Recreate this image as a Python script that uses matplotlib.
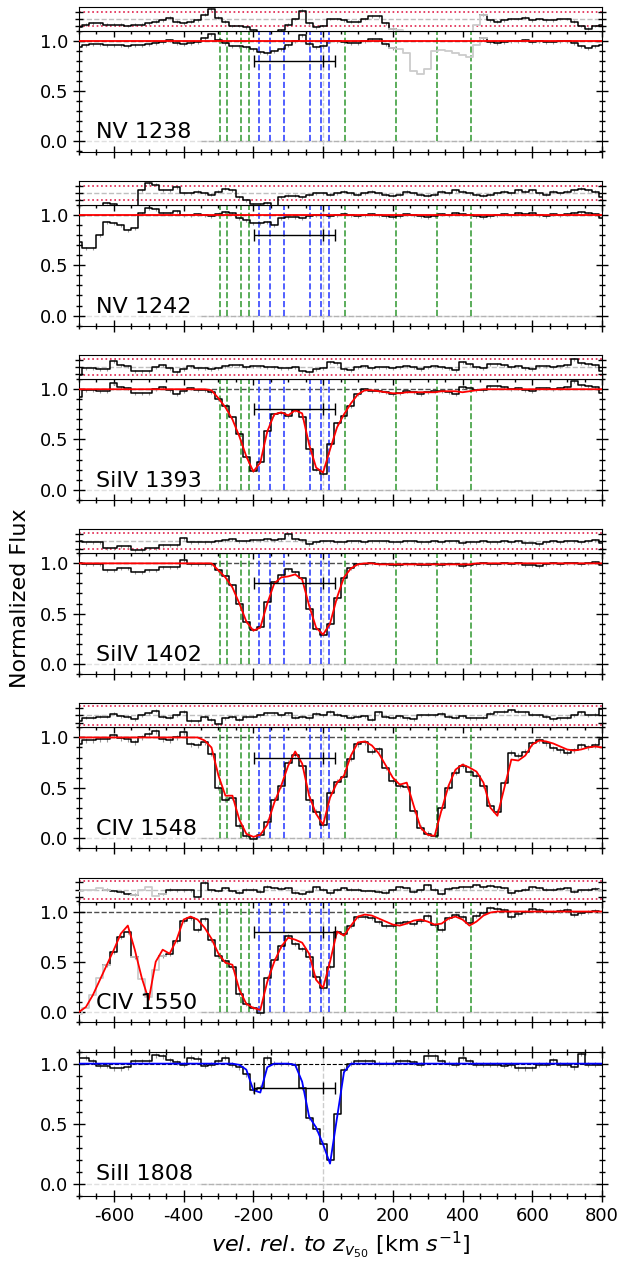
import numpy as np
import matplotlib.pyplot as plt
from matplotlib.ticker import MultipleLocator

plt.rcParams['axes.unicode_minus'] = False

vel = np.arange(-700, 801, 20)

nv1238_flux = [0.94, 0.96, 0.97, 0.97, 0.96, 0.96, 0.96, 0.95, 0.96, 0.96,
               0.97, 0.98, 0.99, 1.01, 0.98, 0.97, 0.98, 0.99, 1.03, 1.07,
               1.01, 0.98, 0.95, 0.95, 0.94, 0.92, 0.89, 0.88, 0.90, 0.92,
               0.96, 1.00, 1.06, 0.97, 0.94, 0.95, 1.00, 1.00, 0.99, 0.98,
               0.98, 1.00, 1.02, 1.02, 0.97, 0.93, 0.92, 0.88, 0.70, 0.67,
               0.72, 0.90, 0.91, 0.90, 0.88, 0.86, 0.84, 0.96, 1.03, 0.99,
               0.98, 0.99, 1.00, 1.00, 1.01, 0.99, 1.00, 0.99, 0.99, 1.00,
               1.00, 0.98, 0.95, 0.93, 0.95, 0.96]
nv1242_flux = [0.73, 0.67, 0.67, 0.80, 0.93, 0.92, 0.90, 0.85, 0.87, 1.02,
               1.07, 1.06, 1.02, 1.02, 1.04, 1.00, 1.00, 1.01, 1.00, 0.99,
               1.01, 1.03, 1.02, 0.97, 0.95, 0.92, 0.92, 0.93, 0.90, 0.97,
               0.98, 0.98, 0.97, 0.99, 1.00, 1.00, 0.99, 1.00, 1.01, 1.00,
               0.99, 1.00, 1.01, 1.00, 0.99, 0.98, 0.99, 1.01, 1.00, 0.99,
               0.98, 0.99, 1.01, 1.00, 1.02, 1.01, 1.00, 0.99, 0.98, 0.99,
               1.00, 1.01, 1.00, 1.02, 1.01, 1.02, 1.00, 0.99, 1.01, 1.00,
               1.01, 1.02, 1.03, 1.02, 1.01, 0.97]
siiv1393_flux = [0.92, 0.99, 0.99, 0.98, 0.98, 1.06, 1.02, 1.01, 0.96, 0.96,
                 0.96, 1.00, 1.02, 0.99, 0.95, 0.98, 1.01, 0.99, 0.99, 0.97,
                 0.90, 0.83, 0.72, 0.55, 0.33, 0.19, 0.28, 0.58, 0.75, 0.76,
                 0.73, 0.79, 0.72, 0.40, 0.20, 0.16, 0.45, 0.66, 0.73, 0.83,
                 0.95, 1.00, 0.98, 0.98, 0.97, 0.95, 0.96, 0.98, 0.97, 0.95,
                 0.97, 0.98, 0.98, 0.97, 0.95, 1.02, 1.01, 0.99, 0.99, 1.03,
                 1.03, 1.02, 1.00, 1.01, 0.99, 0.98, 1.01, 1.01, 1.00, 1.01,
                 1.02, 1.08, 1.04, 1.03, 1.02, 0.96]
siiv1393_model = [1.00, 1.00, 1.00, 1.00, 1.00, 1.00, 1.00, 1.00, 1.00, 1.00,
                  1.00, 1.00, 1.00, 1.00, 1.00, 1.00, 1.00, 1.00, 1.00, 0.99,
                  0.91, 0.82, 0.70, 0.53, 0.33, 0.18, 0.27, 0.58, 0.75, 0.77,
                  0.74, 0.79, 0.76, 0.45, 0.22, 0.17, 0.40, 0.62, 0.75, 0.86,
                  0.95, 0.99, 0.99, 0.98, 0.97, 0.96, 0.96, 0.97, 0.97, 0.97,
                  0.97, 0.97, 0.98, 0.98, 0.98, 0.97, 0.98, 0.99, 1.00, 1.00,
                  1.00, 1.00, 1.00, 1.00, 1.00, 1.00, 1.00, 1.00, 1.00, 1.00,
                  1.00, 1.00, 1.00, 1.00, 1.00, 1.00]
siiv1402_flux = [1.00, 0.99, 0.99, 0.99, 0.93, 0.93, 0.95, 0.95, 0.91, 0.91,
                 0.93, 0.93, 0.96, 0.96, 0.96, 1.03, 0.99, 0.99, 0.99, 0.99,
                 0.93, 0.87, 0.78, 0.60, 0.42, 0.34, 0.37, 0.62, 0.81, 0.88,
                 0.94, 0.91, 0.85, 0.55, 0.35, 0.29, 0.40, 0.65, 0.85, 0.95,
                 0.99, 0.99, 1.00, 0.99, 0.99, 0.98, 0.98, 0.99, 0.99, 0.98,
                 0.98, 0.99, 0.98, 0.99, 0.99, 0.97, 0.98, 0.99, 1.00, 0.99,
                 0.99, 1.00, 0.99, 1.00, 0.98, 0.98, 0.97, 0.99, 1.00, 0.99,
                 1.00, 1.00, 0.99, 1.00, 1.01, 0.98]
siiv1402_model = [1.00, 1.00, 1.00, 1.00, 1.00, 1.00, 1.00, 1.00, 1.00, 1.00,
                  1.00, 1.00, 1.00, 1.00, 1.00, 1.00, 1.00, 1.00, 1.00, 1.00,
                  0.93, 0.86, 0.76, 0.60, 0.42, 0.33, 0.36, 0.60, 0.80, 0.86,
                  0.87, 0.89, 0.84, 0.58, 0.36, 0.29, 0.40, 0.66, 0.86, 0.95,
                  0.99, 1.00, 1.00, 0.99, 0.99, 0.99, 0.99, 0.99, 0.99, 0.99,
                  0.99, 0.99, 0.99, 0.99, 0.99, 0.99, 0.99, 1.00, 1.00, 1.00,
                  1.00, 1.00, 1.00, 1.00, 1.00, 1.00, 1.00, 1.00, 1.00, 1.00,
                  1.00, 1.00, 1.00, 1.00, 1.00, 1.00]
civ1548_flux = [0.93, 0.97, 0.97, 0.98, 0.98, 1.02, 0.99, 0.98, 0.95, 1.00,
                1.03, 1.06, 0.98, 0.97, 1.00, 1.05, 0.93, 0.92, 0.95, 0.84,
                0.50, 0.38, 0.40, 0.12, 0.02, -0.01, 0.03, 0.16, 0.38, 0.52,
                0.75, 0.83, 0.72, 0.38, 0.26, 0.13, 0.45, 0.56, 0.61, 0.79,
                0.93, 0.95, 0.86, 0.88, 0.70, 0.57, 0.52, 0.51, 0.27, 0.10,
                0.04, 0.02, 0.30, 0.50, 0.65, 0.72, 0.66, 0.62, 0.52, 0.32,
                0.26, 0.55, 0.85, 0.82, 0.86, 0.94, 0.97, 0.94, 0.89, 0.87,
                0.85, 0.87, 0.92, 0.90, 0.92, 0.98]
civ1548_model = [1.00, 1.00, 1.00, 1.00, 1.00, 1.00, 1.00, 1.00, 1.00, 1.00,
                 1.00, 1.00, 1.00, 1.00, 1.00, 1.00, 1.00, 1.00, 0.97, 0.90,
                 0.62, 0.42, 0.42, 0.18, 0.04, 0.01, 0.03, 0.13, 0.35, 0.52,
                 0.72, 0.86, 0.74, 0.42, 0.24, 0.13, 0.40, 0.55, 0.62, 0.82,
                 0.95, 0.96, 0.92, 0.84, 0.72, 0.60, 0.53, 0.55, 0.32, 0.10,
                 0.03, 0.02, 0.28, 0.52, 0.68, 0.73, 0.70, 0.66, 0.55, 0.30,
                 0.22, 0.50, 0.78, 0.77, 0.82, 0.93, 0.97, 0.96, 0.94, 0.91,
                 0.88, 0.87, 0.88, 0.90, 0.91, 0.90]
civ1550_flux = [-0.02, 0.04, 0.17, 0.34, 0.47, 0.60, 0.75, 0.80, 0.55, 0.33,
                0.15, 0.42, 0.56, 0.58, 0.71, 0.91, 0.94, 0.82, 0.93, 0.72,
                0.56, 0.51, 0.45, 0.18, 0.08, 0.04, -0.01, 0.34, 0.52, 0.66,
                0.76, 0.68, 0.63, 0.55, 0.35, 0.24, 0.45, 0.80, 0.78, 0.86,
                0.95, 0.95, 0.94, 0.90, 0.86, 0.86, 0.89, 0.90, 0.88, 0.91,
                0.96, 0.87, 0.82, 0.94, 0.97, 0.95, 0.89, 0.96, 0.99, 1.04,
                1.03, 1.02, 0.95, 0.98, 1.00, 1.03, 1.02, 1.00, 1.00, 1.01,
                1.02, 0.97, 0.99, 1.00, 1.01, 0.99]
civ1550_model = [0.00, 0.05, 0.17, 0.32, 0.47, 0.62, 0.78, 0.86, 0.62, 0.34,
                 0.12, 0.50, 0.62, 0.58, 0.72, 0.92, 0.95, 0.92, 0.84, 0.73,
                 0.58, 0.49, 0.47, 0.22, 0.08, 0.04, 0.02, 0.30, 0.50, 0.65,
                 0.74, 0.72, 0.69, 0.58, 0.32, 0.24, 0.50, 0.80, 0.76, 0.86,
                 0.95, 0.97, 0.96, 0.93, 0.90, 0.87, 0.86, 0.88, 0.91, 0.92,
                 0.90, 0.87, 0.88, 0.93, 0.95, 0.92, 0.86, 0.90, 0.96, 0.99,
                 1.00, 1.00, 1.00, 1.00, 1.00, 1.00, 1.00, 1.00, 1.00, 1.00,
                 1.00, 1.00, 1.00, 1.00, 1.00, 1.00]
siii1808_flux = [1.05, 1.05, 1.02, 0.98, 0.98, 0.96, 0.96, 0.97, 1.02, 1.02,
                 1.02, 1.07, 1.06, 1.03, 1.01, 0.99, 1.05, 1.04, 0.98, 0.99,
                 1.02, 1.05, 0.99, 0.97, 0.91, 0.78, 0.80, 1.05, 1.00, 1.00,
                 1.00, 0.99, 0.80, 0.55, 0.46, 0.33, 0.20, 0.58, 0.95, 1.00,
                 1.02, 1.02, 1.02, 1.00, 1.00, 1.00, 1.02, 1.02, 1.01, 0.99,
                 1.06, 1.06, 1.02, 1.00, 0.99, 1.05, 1.02, 0.99, 0.99, 0.99,
                 0.99, 0.98, 0.99, 0.96, 0.96, 0.96, 0.99, 0.99, 1.03, 0.99,
                 0.99, 0.97, 1.08, 0.99, 0.99, 0.99]
siii1808_model = [1.00, 1.00, 1.00, 1.00, 1.00, 1.00, 1.00, 1.00, 1.00, 1.00,
                  1.00, 1.00, 1.00, 1.00, 1.00, 1.00, 1.00, 1.00, 1.00, 1.00,
                  1.00, 1.00, 1.00, 0.99, 0.95, 0.78, 0.76, 0.97, 1.00, 1.00,
                  1.00, 0.99, 0.85, 0.56, 0.47, 0.33, 0.17, 0.55, 0.93, 1.00,
                  1.00, 1.00, 1.00, 1.00, 1.00, 1.00, 1.00, 1.00, 1.00, 1.00,
                  1.00, 1.00, 1.00, 1.00, 1.00, 1.00, 1.00, 1.00, 1.00, 1.00,
                  1.00, 1.00, 1.00, 1.00, 1.00, 1.00, 1.00, 1.00, 1.00, 1.00,
                  1.00, 1.00, 1.00, 1.00, 1.00, 1.00]
nv_model = [1.0] * len(vel)

labels = ['NV 1238', 'NV 1242', 'SiIV 1393', 'SiIV 1402', 'CIV 1548', 'CIV 1550', 'SiII 1808']
fluxes = [nv1238_flux, nv1242_flux, siiv1393_flux, siiv1402_flux, civ1548_flux, civ1550_flux, siii1808_flux]
models = [nv_model, nv_model, siiv1393_model, siiv1402_model, civ1548_model, civ1550_model, siii1808_model]
flux_err = [0.015, 0.015, 0.015, 0.015, 0.025, 0.02, 0.02]
# residual strip half-range and 1-sigma band (same units as flux)
resid_lim = [0.085, 0.085, 0.12, 0.12, 0.16, 0.16]
resid_sig = [0.049, 0.049, 0.08, 0.08, 0.125, 0.12]
gray_ranges = [[(210, 450)], [], [], [], [], [(-700, -640), (-520, -480)], []]

# component velocities and v90 range
green_v = [-295, -275, -236, -212, 63, 209, 327, 424]
blue_v = [-183, -152, -113, -37, -7, 17]
v_lo, v_hi = -198, 35

W, H = 625, 1262
fig = plt.figure(figsize=(W / 100, H / 100), dpi=100)
left, width = 79 / W, 523 / W


def ticks(ax):
    ax.set_xlim(-700, 800)
    ax.xaxis.set_major_locator(MultipleLocator(200))
    ax.xaxis.set_minor_locator(MultipleLocator(50))
    ax.tick_params(which='both', direction='inout', top=True, right=True, labelsize=13)
    ax.tick_params(which='major', length=8, width=1)
    ax.tick_params(which='minor', length=4, width=1)


def split(flux, rngs):
    flux = np.asarray(flux, dtype=float)
    mask = np.zeros(len(vel), bool)
    for lo, hi in rngs:
        mask |= (vel >= lo) & (vel <= hi)
    wide = mask | np.roll(mask, 1) | np.roll(mask, -1)
    return np.where(mask, np.nan, flux), np.where(wide, flux, np.nan)


for k in range(7):
    top = 7 + 174.1 * k
    bot = top + 144.5
    has_res = k < 6
    sep = top + 24 if has_res else top
    ax = fig.add_axes([left, 1 - bot / H, width, (bot - sep) / H])
    ticks(ax)
    ax.set_ylim(-0.1, 1.1)
    ax.yaxis.set_minor_locator(MultipleLocator(0.1))
    ax.set_yticks([0.0, 0.5, 1.0])
    ax.set_yticklabels(['0.0', '0.5', '1.0'])
    if k < 6:
        ax.tick_params(labelbottom=False)

    flux = np.asarray(fluxes[k], dtype=float)
    model = np.asarray(models[k], dtype=float)
    black, gray = split(flux, gray_ranges[k])

    ax.axhline(0, color='0.88', ls='--', lw=1, zorder=0)
    ax.hlines(0, -350, 800, color='0.7', ls='--', lw=1, zorder=0)
    ax.axhline(1, color='0.3' if k < 6 else 'k', ls='--', lw=1 if k < 6 else 0.8, zorder=0)
    ax.axvline(0, color='0.8', ls='--', lw=1, zorder=0)
    if k < 6:
        ax.vlines(green_v, 0, 1.1, colors='#3f9f3f', linestyles='--', lw=1.2, zorder=1)
        ax.vlines(blue_v, 0, 1.1, colors='#3344ff', linestyles='--', lw=1.2, zorder=1)

    ax.errorbar(vel, black, yerr=flux_err[k], fmt='none', ecolor='0.6', elinewidth=0.8, zorder=2)
    ax.step(vel, black, where='mid', color='k', lw=1.1, zorder=3)
    ax.step(vel, gray, where='mid', color='0.8', lw=1.3, zorder=3)
    ax.plot(vel, model, color='red' if k < 6 else 'blue', lw=1.3, zorder=4)

    ax.errorbar([0], [0.8], xerr=[[0 - v_lo], [v_hi - 0]], fmt='|', color='k',
                ms=8, capsize=4, elinewidth=1, zorder=5)
    ax.text(-650, 0.03, labels[k], fontsize=16, va='baseline', zorder=6)

    if has_res:
        rx = fig.add_axes([left, 1 - sep / H, width, (sep - top) / H])
        ticks(rx)
        rx.tick_params(which='both', bottom=False, top=False, labelbottom=False, labelleft=False)
        lim = resid_lim[k]
        rx.set_ylim(-lim, lim)
        rx.set_yticks([-0.6 * lim, 0, 0.6 * lim])
        rx.tick_params(which='major', length=6)
        rx.axhline(0, color='0.75', ls='--', lw=1, zorder=0)
        rx.axhline(resid_sig[k], color='#e0204a', ls=':', lw=1.2, zorder=1)
        rx.axhline(-resid_sig[k], color='#e0204a', ls=':', lw=1.2, zorder=1)
        rb, rg = black - model, gray - model
        rx.errorbar(vel, rb, yerr=lim * 0.12, fmt='none', ecolor='0.6', elinewidth=0.8, zorder=2)
        rx.step(vel, rb, where='mid', color='k', lw=1.1, zorder=3)
        rx.step(vel, rg, where='mid', color='0.8', lw=1.3, zorder=3)
    if k == 6:
        ax.set_xlabel(r'$vel.\,rel.\,to\ z_{v_{50}}$ [km $s^{-1}$]', fontsize=16, labelpad=4)

fig.text(0.032, 0.526, 'Normalized Flux', rotation=90, ha='center', va='center', fontsize=16)

fig.savefig('out.png', dpi=100)
